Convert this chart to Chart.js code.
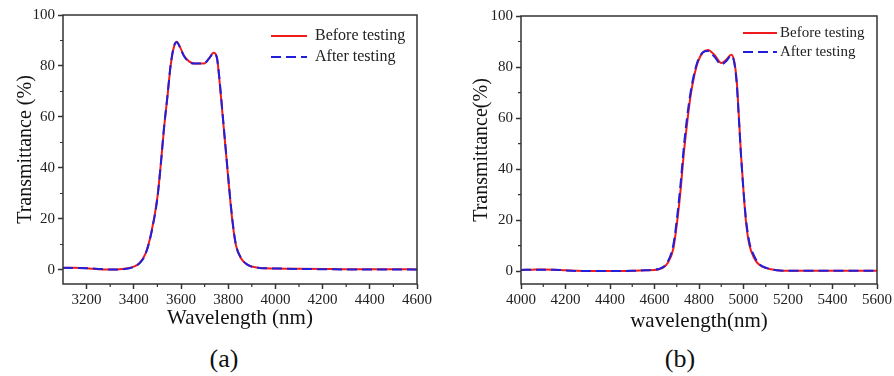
<!DOCTYPE html>
<html>
<head>
<meta charset="utf-8">
<script src="https://cdn.jsdelivr.net/npm/chart.js@4.4.1/dist/chart.umd.min.js"></script>
<style>
  body { margin: 0; background: #fff; width: 894px; height: 376px; position: relative; overflow: hidden; }
  .panel { position: absolute; top: 0; }
  .tag { position: absolute; font-family: 'Liberation Serif', 'Times New Roman', serif; font-size: 26px; color: #111; transform: translate(-50%, -50%); }
</style>
</head>
<body>
<div class="panel" style="left:0"><canvas id="chartA" width="447" height="331"></canvas></div>
<div class="panel" style="left:447px"><canvas id="chartB" width="447" height="334"></canvas></div>
<div class="tag" style="left:224px; top:359px">(a)</div>
<div class="tag" style="left:680px; top:359px">(b)</div>
<script>
// panel (a)
const wavelengthA = [3100, 3150, 3200, 3250, 3300, 3350, 3400, 3425, 3450, 3475, 3500, 3514, 3528, 3542, 3556, 3570, 3582, 3598, 3613, 3634, 3655, 3698, 3719, 3738, 3752, 3762, 3776, 3790, 3804, 3818, 3832, 3854, 3882, 3925, 4000, 4100, 4200, 4300, 4400, 4500, 4600];
const beforeA = [0.8, 0.9, 0.7, 0.3, 0.2, 0.4, 1.3, 2.8, 6.5, 15, 28.5, 41, 55.5, 67.5, 80, 87.5, 89.5, 87, 84, 81.8, 81, 81, 83, 85.2, 83.4, 75.3, 61, 46.5, 32, 19, 10, 4.6, 2, 0.9, 0.6, 0.5, 0.4, 0.3, 0.3, 0.3, 0.2];
const afterA = [0.9, 0.8, 0.7, 0.4, 0.2, 0.3, 1.2, 2.7, 6.3, 14.8, 28.3, 41, 55.8, 67.8, 80.3, 87.7, 89.3, 86.8, 83.8, 81.6, 81, 81, 83, 85, 83.2, 75.8, 61.5, 47, 32.5, 19.5, 10.3, 4.8, 2.1, 0.9, 0.6, 0.4, 0.3, 0.2, 0.2, 0.2, 0.2];

// panel (b)
const wavelengthB = [4000, 4050, 4100, 4150, 4200, 4250, 4300, 4400, 4500, 4560, 4620, 4660, 4685, 4702, 4718, 4731, 4746, 4761, 4776, 4795, 4818, 4840, 4870, 4900, 4922, 4945, 4959, 4970, 4979, 4989, 5000, 5011, 5026, 5049, 5071, 5103, 5150, 5200, 5300, 5400, 5500, 5600];
const beforeB = [0.5, 0.6, 0.7, 0.6, 0.35, 0.15, 0.05, 0.05, 0.2, 0.4, 0.8, 3.3, 9, 19.5, 32.5, 45.5, 57.5, 68, 75.5, 82, 85.8, 86.7, 84.7, 81.6, 82.8, 84.8, 82, 74, 61, 45.5, 31.5, 19.5, 10.5, 5, 2.5, 1.2, 0.4, 0.2, 0.2, 0.2, 0.2, 0.2];
const afterB = [0.5, 0.6, 0.6, 0.6, 0.3, 0.1, 0.05, 0.05, 0.15, 0.4, 0.9, 3.8, 10.5, 21.5, 35, 48, 60, 69.5, 76.5, 82.5, 85.8, 86.3, 84, 81, 82.3, 84.5, 81.5, 73, 60, 45, 31.5, 20.5, 11.5, 5.8, 2.8, 1.3, 0.4, 0.2, 0.2, 0.2, 0.2, 0.2];

const yMajor = [0, 20, 40, 60, 80, 100];
const yMinor = [10, 30, 50, 70, 90];
const xMajorA = [3200, 3400, 3600, 3800, 4000, 4200, 4400, 4600];
const xMinorA = [3300, 3500, 3700, 3900, 4100, 4300, 4500];
const xMajorB = [4000, 4200, 4400, 4600, 4800, 5000, 5200, 5400, 5600];
const xMinorB = [4100, 4300, 4500, 4700, 4900, 5100, 5300, 5500];
const seriesNames = ['Before testing', 'After testing'];

const RED = '#f01c1c';
const BLUE = '#1f1fdc';
const AXIS = '#333';
Chart.defaults.font.family = "'Liberation Serif', 'Times New Roman', serif";
Chart.defaults.color = '#222';

function pairs(xs, ys) {
    return xs.map((w, i) => ({ x: w, y: ys[i] }));
}

// box frame, minor ticks and the legend inside the plot
const framePlugin = {
    id: 'framePlugin',
    afterDraw(chart, args, opts) {
        const ctx = chart.ctx;
        const a = chart.chartArea;
        const x = chart.scales.x, y = chart.scales.y;
        ctx.save();
        ctx.strokeStyle = AXIS;
        ctx.lineWidth = 1.5;
        ctx.strokeRect(a.left, a.top, a.right - a.left, a.bottom - a.top);
        ctx.lineWidth = 1.2;
        ctx.beginPath();
        opts.minorX.forEach(v => {
            const px = x.getPixelForValue(v);
            ctx.moveTo(px, a.bottom);
            ctx.lineTo(px, a.bottom + 3);
        });
        yMinor.forEach(v => {
            const py = y.getPixelForValue(v);
            ctx.moveTo(a.left, py);
            ctx.lineTo(a.left - 3, py);
        });
        ctx.stroke();

        const lg = opts.legend;
        ctx.font = lg.size + "px 'Liberation Serif', 'Times New Roman', serif";
        ctx.textBaseline = 'middle';
        ctx.fillStyle = '#222';
        ctx.lineWidth = 2;
        [RED, BLUE].forEach((c, i) => {
            const ly = lg.y + i * lg.gap;
            ctx.strokeStyle = c;
            ctx.setLineDash(i == 0 ? [] : [10, 5]);
            ctx.beginPath();
            ctx.moveTo(lg.x0, ly);
            ctx.lineTo(lg.x1, ly);
            ctx.stroke();
            ctx.fillText(seriesNames[i], lg.tx, ly);
        });
        ctx.restore();
    }
};

function makeChart(id, wl, before, after, cfg) {
    return new Chart(document.getElementById(id), {
        type: 'line',
        data: {
            datasets: [{
                label: seriesNames[0],
                data: pairs(wl, before),
                borderColor: RED,
                borderWidth: 2,
                pointRadius: 0,
                cubicInterpolationMode: 'monotone',
                order: 1
            }, {
                label: seriesNames[1],
                data: pairs(wl, after),
                borderColor: BLUE,
                borderWidth: 2,
                borderDash: [10, 5],
                pointRadius: 0,
                cubicInterpolationMode: 'monotone',
                order: 0
            }]
        },
        options: {
            responsive: false,
            animation: false,
            layout: { padding: cfg.padding },
            plugins: {
                legend: { display: false },
                tooltip: { enabled: false },
                framePlugin: { minorX: cfg.minorX, legend: cfg.legend }
            },
            scales: {
                x: {
                    type: 'linear',
                    min: cfg.xMin,
                    max: cfg.xMax,
                    afterBuildTicks: s => { s.ticks = cfg.majorX.map(v => ({ value: v })); },
                    afterFit: s => { s.height = cfg.xHeight; },
                    grid: { drawOnChartArea: false, tickLength: 5, tickColor: AXIS, tickWidth: 1.5 },
                    border: { display: false },
                    ticks: { font: { size: 15 }, padding: 2, maxRotation: 0, autoSkip: false, callback: v => String(v) },
                    title: { display: true, text: cfg.xTitle, font: { size: 21 }, color: '#111', padding: { top: 0, bottom: 0 } }
                },
                y: {
                    type: 'linear',
                    min: cfg.yMin,
                    max: 100,
                    afterBuildTicks: s => { s.ticks = yMajor.map(v => ({ value: v })); },
                    afterFit: s => { s.width = cfg.yWidth; },
                    grid: { drawOnChartArea: false, tickLength: 5, tickColor: AXIS, tickWidth: 1.5 },
                    border: { display: false },
                    ticks: { font: { size: 15 }, padding: 3, callback: v => String(v) },
                    title: { display: true, text: cfg.yTitle, font: { size: 20 }, color: '#111', padding: { top: cfg.yTitlePad, bottom: 0 } }
                }
            }
        },
        plugins: [framePlugin]
    });
}

makeChart('chartA', wavelengthA, beforeA, afterA, {
    padding: { left: 0, right: 30, top: 15, bottom: 0 },
    xMin: 3100, xMax: 4600, majorX: xMajorA, minorX: xMinorA,
    yMin: -5.5, xHeight: 47, yWidth: 63, yTitlePad: 14,
    xTitle: 'Wavelength (nm)', yTitle: 'Transmittance (%)',
    legend: { x0: 271, x1: 307, tx: 315, y: 36, gap: 21, size: 16 }
});

makeChart('chartB', wavelengthB, beforeB, afterB, {
    padding: { left: 0, right: 16, top: 16, bottom: 0 },
    xMin: 4000, xMax: 5600, majorX: xMajorB, minorX: xMinorB,
    yMin: -5, xHeight: 50, yWidth: 74, yTitlePad: 23,
    xTitle: 'wavelength(nm)', yTitle: 'Transmittance(%)',
    legend: { x0: 296, x1: 330, tx: 333, y: 33, gap: 19, size: 15 }
});
</script>
</body>
</html>
